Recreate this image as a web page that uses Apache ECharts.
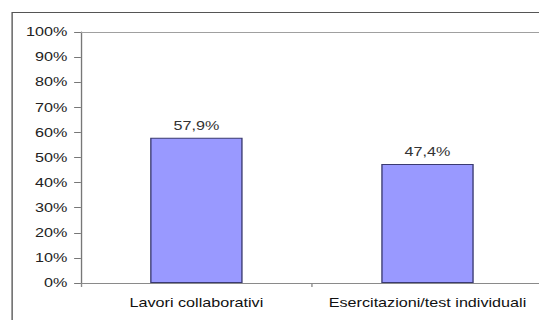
<!DOCTYPE html>
<html>
<head>
<meta charset="utf-8">
<script src="https://cdn.jsdelivr.net/npm/echarts@6/dist/echarts.min.js"></script>
<style>
  html, body { margin: 0; padding: 0; background: #fff; overflow: hidden; }
  /* The chart is laid out on a narrower canvas and widened to fill the frame,
     which gives the text its broad, stretched look. */
  #chart { width: 400px; height: 320px; transform: scaleX(1.3475); transform-origin: 0 0; }
</style>
</head>
<body>
<div id="chart"></div>
<script>
// Activity types and their share of responses (%)
const categories = ['Lavori collaborativi', 'Esercitazioni/test individuali'];
const shares = [57.9, 47.4];
const yTicks = { min: 0, max: 100, step: 10 };

const fontFamily = '"Liberation Sans", Arial, sans-serif';
const chart = echarts.init(document.getElementById('chart'), null, { renderer: 'svg' });

chart.setOption({
  animation: false,
  backgroundColor: '#fff',
  graphic: [{
    type: 'rect',
    shape: { x: 9, y: 12.5, width: 500, height: 400 },
    style: { fill: 'none', stroke: '#555', lineWidth: 1 },
    silent: true
  }],
  grid: {
    left: 60, right: -3, top: 32, bottom: 37,
    outerBoundsMode: 'none',
    containLabel: false,
    show: false
  },
  xAxis: [{
    type: 'category',
    data: categories,
    boundaryGap: true,
    axisLine: { show: true, lineStyle: { color: '#8a8a8a', width: 1 } },
    axisTick: { show: true, length: 4, lineStyle: { color: '#8a8a8a' } },
    axisLabel: { fontFamily, fontSize: 12, color: '#111', margin: 14, interval: 0, hideOverlap: false },
    splitLine: { show: false }
  }, {
    // plain rule along the top of the plot area
    type: 'category',
    position: 'top',
    data: categories,
    axisLine: { show: true, lineStyle: { color: '#a0a0a0', width: 1 } },
    axisTick: { show: false },
    axisLabel: { show: false },
    splitLine: { show: false }
  }],
  yAxis: {
    type: 'value',
    min: yTicks.min, max: yTicks.max, interval: yTicks.step,
    axisLine: { show: true, lineStyle: { color: '#777', width: 1 } },
    axisTick: { show: true, length: 5, lineStyle: { color: '#777' } },
    axisLabel: { fontFamily, fontSize: 12, color: '#222', margin: 10, formatter: '{value}%' },
    splitLine: { show: false }
  },
  series: [{
    type: 'bar',
    data: shares,
    barWidth: '40%',
    itemStyle: { color: '#9999ff', borderColor: '#3a3a70', borderWidth: 1 },
    label: {
      show: true,
      position: 'top',
      distance: 6,
      fontFamily, fontSize: 12, color: '#333',
      formatter: p => p.value.toFixed(1).replace('.', ',') + '%'
    }
  }]
});
</script>
</body>
</html>
